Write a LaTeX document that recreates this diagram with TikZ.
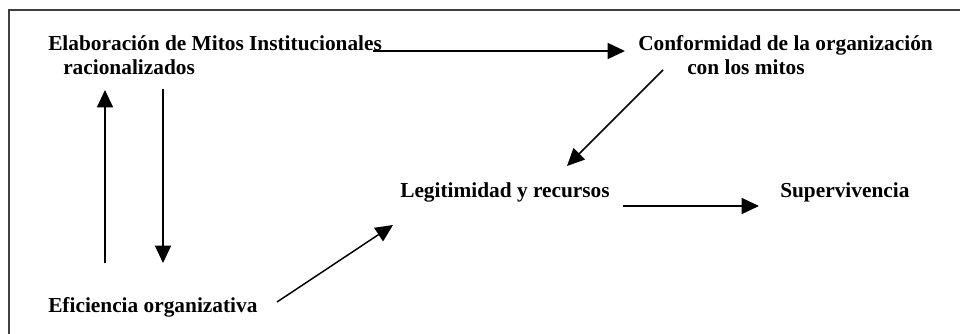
\documentclass[tikz,border=0pt]{standalone}
\usepackage{fontspec}
\setmainfont{Liberation Serif}
\usetikzlibrary{arrows.meta}
\begin{document}
\begin{tikzpicture}[x=0.75pt,y=-0.75pt,
  lbl/.style={font=\fontsize{16}{18}\selectfont\bfseries, inner sep=0pt, anchor=base west, align=left},
  conn/.style={line width=1.1pt, -{Triangle[length=13pt,width=12pt]}},
  frame/.style={line width=1pt, draw=black!75}]
\useasboundingbox (0,0) rectangle (960,333);
\draw[frame] (9,340) -- (9,10) -- (970,10);
\node[lbl] (elab) at (48,50) {Elaboración de Mitos Institucionales};
\node[lbl] (elab2) at (63,74) {racionalizados};
\node[lbl] (conf) at (638,50) {Conformidad de la organización};
\node[lbl] (conf2) at (687,74) {con los mitos};
\node[lbl] (legi) at (400,197) {Legitimidad y recursos};
\node[lbl] (sup) at (780,197) {Supervivencia};
\node[lbl] (efic) at (48,312) {Eficiencia organizativa};
% connector end points
\coordinate (a1) at (373,51);
\coordinate (a2) at (625,51);
\coordinate (b1) at (105,263);
\coordinate (b2) at (105,90);
\coordinate (c1) at (163,89);
\coordinate (c2) at (163,263);
\coordinate (d1) at (663,70);
\coordinate (d2) at (567,166);
\coordinate (e1) at (277,302);
\coordinate (e2) at (393,225);
\coordinate (f1) at (623,206);
\coordinate (f2) at (759,206);
\draw[conn] (a1) -- (a2);
\draw[conn] (b1) -- (b2);
\draw[conn] (c1) -- (c2);
\draw[conn] (d1) -- (d2);
\draw[conn] (e1) -- (e2);
\draw[conn] (f1) -- (f2);
\end{tikzpicture}
\end{document}
